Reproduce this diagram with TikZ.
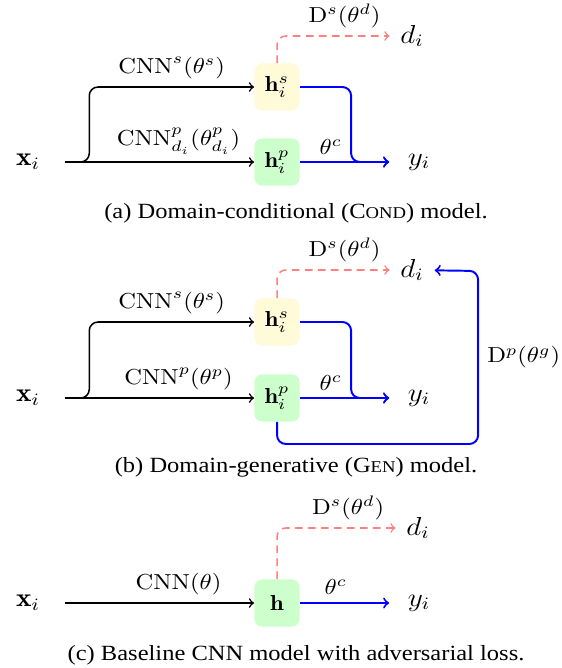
\documentclass[tikz,border=0pt]{standalone}
\usepackage{fontspec}
\newfontfamily\capfont{Liberation Serif}
\usepackage{tikz}
\usetikzlibrary{positioning,calc}
\definecolor{sharedfill}{RGB}{255,250,216}
\definecolor{privfill}{RGB}{204,255,204}
\newcommand{\smallcap}[1]{{\fontsize{7.6pt}{9pt}\selectfont #1}}

\begin{document}
\begin{tikzpicture}[x=0.408pt, y=-0.461pt, xscale=1.13,
        every node/.append style = {transform shape},
        HStyle/.style = {rectangle, rounded corners=3.5pt, inner sep=0pt,
          minimum width=18.4pt, minimum height=21.7pt},
        SharedStyle/.style = {HStyle, fill=sharedfill},
        PrivStyle/.style = {HStyle, fill=privfill},
        InStyle/.style = {font=\large, minimum width=30pt, inner sep=0pt},
        OutStyle/.style = {font=\large, minimum width=24pt, inner sep=0pt},
        DomStyle/.style = {font=\large, minimum width=18pt, inner sep=0pt},
        CapStyle/.style = {font=\capfont},
        EncEdge/.style = {->, line width=0.7pt, rounded corners=4pt},
        ClsEdge/.style = {->, blue, line width=0.9pt, text=black, rounded corners=4pt},
        AdvEdge/.style = {->, red!50, line width=0.7pt, dash pattern=on 3.5pt off 2.5pt,
          text=black, rounded corners=4pt}
      ]
      \useasboundingbox (0,0) rectangle (561,668);

      % (a) domain-conditional
      \node[InStyle] (xa) at (28,162) {$\mathbf{x}_i$};
      \node[SharedStyle] (hsa) at (277,87) {$\mathbf{h}_i^s$};
      \node[PrivStyle] (hpa) at (277,162) {$\mathbf{h}_i^p$};
      \node[OutStyle] (ya) at (419,162) {$y_i$};
      \node[DomStyle] (da) at (412,36) {$d_i$};
      \draw[EncEdge] (xa.east) -- ++(24,0) |- node[above, pos=.75] {$\mathrm{CNN}^s(\theta^s)$} (hsa);
      \draw[EncEdge] (xa) -- node[above, pos=.6] {$\mathrm{CNN}^p_{d_i}(\theta^p_{d_i})$} (hpa);
      \draw[ClsEdge] (hsa.east) -- ++(51,0) -- node[left, pos=.8] {$\theta^c$} ++(0,75) -- (ya);
      \draw[ClsEdge] (hpa) -- (ya);
      \draw[AdvEdge] (hsa.north) |- node[above, pos=.8] {$\mathrm{D}^s(\theta^d)$} (da);
      \node[CapStyle] (capa) at (296,213) {(a) Domain-conditional (C\smallcap{OND}) model.};

      % (b) domain-generative
      \node[InStyle] (xb) at (28,398) {$\mathbf{x}_i$};
      \node[SharedStyle] (hsb) at (277,322) {$\mathbf{h}_i^s$};
      \node[PrivStyle] (hpb) at (277,398) {$\mathbf{h}_i^p$};
      \node[OutStyle] (yb) at (419,398) {$y_i$};
      \node[DomStyle] (db) at (412,270) {$d_i$};
      \draw[EncEdge] (xb.east) -- ++(24,0) |- node[above, pos=.75] {$\mathrm{CNN}^s(\theta^s)$} (hsb);
      \draw[EncEdge] (xb) -- node[above, pos=.6] {$\mathrm{CNN}^p(\theta^p)$} (hpb);
      \draw[ClsEdge] (hsb.east) -- ++(51,0) -- node[left, pos=.8] {$\theta^c$} ++(0,76) -- (yb);
      \draw[ClsEdge] (hpb) -- (yb);
      \draw[AdvEdge] (hsb.north) |- node[above, pos=.8] {$\mathrm{D}^s(\theta^d)$} (db);
      \draw[ClsEdge] (hpb.south) -- ++(0,22) -| node[right, pos=.75] {$\mathrm{D}^p(\theta^g)$} ++(201,-173) -- (db);
      \node[CapStyle] (capb) at (296,467) {(b) Domain-generative (G\smallcap{EN}) model.};

      % (c) baseline
      \node[InStyle] (xc) at (28,603) {$\mathbf{x}_i$};
      \node[PrivStyle] (hc) at (277,603) {$\mathbf{h}$};
      \node[OutStyle] (yc) at (419,603) {$y_i$};
      \node[DomStyle] (dc) at (418,528) {$d_i$};
      \draw[EncEdge] (xc) -- node[above, pos=.6] {$\mathrm{CNN}(\theta)$} (hc);
      \draw[ClsEdge] (hc) -- node[above, pos=.4] {$\theta^c$} (yc);
      \draw[AdvEdge] (hc.north) |- node[above, pos=.8] {$\mathrm{D}^s(\theta^d)$} (dc);
      \node[CapStyle] (capc) at (296,655) {(c) Baseline CNN model with adversarial loss.};
    \end{tikzpicture}
\end{document}
